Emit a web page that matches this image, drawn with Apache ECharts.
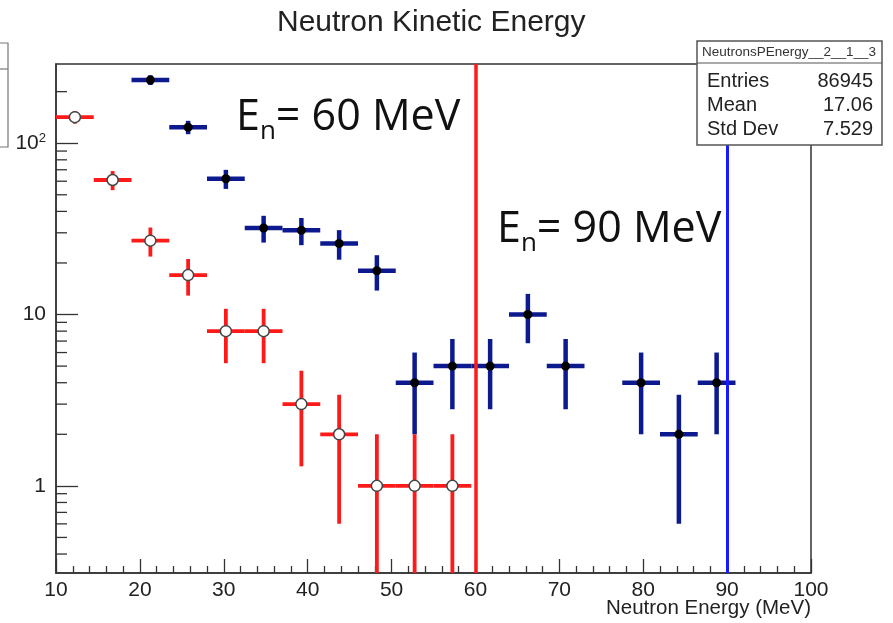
<!DOCTYPE html>
<html>
<head>
<meta charset="utf-8">
<script src="https://cdn.jsdelivr.net/npm/echarts@6/dist/echarts.min.js"></script>
<style>
  html, body { margin: 0; padding: 0; background: #fff; }
  #main { width: 893px; height: 623px; }
</style>
</head>
<body>
<div id="main"></div>
<script>
// bin centres (MeV), bins are 4.5 MeV wide starting at 10
var binWidth = 4.5;
var redCenters = [12.25, 16.75, 21.25, 25.75, 30.25, 34.75, 39.25, 43.75, 48.25, 52.75, 57.25];
var redCounts  = [142, 61, 27, 17, 8, 8, 3, 2, 1, 1, 1];
var redErr     = [12, 7.8, 5.2, 4.1, 2.8, 2.8, 1.7, 1.4, 1, 1, 1];

var blueCenters = [21.25, 25.75, 30.25, 34.75, 39.25, 43.75, 48.25, 52.75, 57.25, 61.75, 66.25, 70.75, 79.75, 84.25, 88.75];
var blueCounts  = [234, 124, 62, 32, 31, 26, 18, 4, 5, 5, 10, 5, 4, 2, 4];
var blueErr     = [15.3, 11.1, 7.9, 5.7, 5.6, 5.1, 4.2, 2, 2.2, 2.2, 3.2, 2.2, 2, 1.4, 2];

var xTicks = [10, 20, 30, 40, 50, 60, 70, 80, 90, 100];
var yMinorTicks = [0.4, 0.5, 0.6, 0.7, 0.8, 0.9, 2, 3, 4, 5, 6, 7, 8, 9, 20, 30, 40, 50, 60, 70, 80, 90, 200];
var energyLines = [60, 90];

var X_MIN = 10, X_MAX = 100, Y_MIN = 0.31, Y_MAX = 290;

var stats = [['Entries', '86945'], ['Mean', '17.06'], ['Std Dev', '7.529']];

function zip(xs, ys, es) {
    return xs.map(function (x, i) { return es ? [x, ys[i], es[i]] : [x, ys[i]]; });
}

function errorBars(color, width) {
    return function (params, api) {
        var x = api.value(0), v = api.value(1), e = api.value(2);
        var half = binWidth / 2;
        var l = api.coord([x - half, v]);
        var r = api.coord([x + half, v]);
        var t = api.coord([x, Math.min(v + e, Y_MAX)]);
        var low = v - e > Y_MIN ? v - e : Y_MIN;
        var b = api.coord([x, low]);
        var style = { stroke: color, lineWidth: width };
        return {
            type: 'group',
            children: [
                { type: 'line', shape: { x1: l[0], y1: l[1], x2: r[0], y2: r[1] }, style: style },
                { type: 'line', shape: { x1: t[0], y1: t[1], x2: b[0], y2: b[1] }, style: style }
            ]
        };
    };
}

var chart = echarts.init(document.getElementById('main'));

var statsChildren = [
    { type: 'rect', z: 100, shape: { x: 697, y: 41, width: 185, height: 104 },
      style: { fill: '#fff', stroke: '#555', lineWidth: 1.5 } },
    { type: 'line', z: 101, shape: { x1: 697, y1: 63, x2: 882, y2: 63 }, style: { stroke: '#555', lineWidth: 1.2 } },
    { type: 'text', z: 101, style: { x: 789, y: 52, text: 'NeutronsPEnergy__2__1__3', fontSize: 13.5,
      fontFamily: 'Liberation Sans', fill: '#333', align: 'center', verticalAlign: 'middle' } }
];
stats.forEach(function (s, i) {
    var y = 81 + i * 24;
    statsChildren.push({ type: 'text', z: 101, style: { x: 707, y: y, text: s[0], fontSize: 20,
        fontFamily: 'Liberation Sans', fill: '#222', align: 'left', verticalAlign: 'middle' } });
    statsChildren.push({ type: 'text', z: 101, style: { x: 873, y: y, text: s[1], fontSize: 20,
        fontFamily: 'Liberation Sans', fill: '#222', align: 'right', verticalAlign: 'middle' } });
});

var option = {
    backgroundColor: '#fff',
    animation: false,
    title: {
        text: 'Neutron Kinetic Energy',
        left: 272,
        top: 3,
        textStyle: { fontFamily: 'Liberation Sans', fontSize: 30, fontWeight: 'normal', color: '#222' }
    },
    grid: {
        left: 56, right: 82, top: 64, bottom: 50,
        outerBoundsMode: 'none',
        show: true, borderColor: '#333', borderWidth: 1.5, backgroundColor: 'transparent'
    },
    xAxis: {
        type: 'value',
        min: X_MIN, max: X_MAX, interval: 10,
        axisLine: { lineStyle: { color: '#333', width: 1.5 } },
        axisTick: { inside: true, length: 14, lineStyle: { color: '#333', width: 1.3 } },
        minorTick: { show: true, splitNumber: 5, length: 7, lineStyle: { color: '#333', width: 1.3 } },
        splitLine: { show: false },
        axisLabel: {
            fontFamily: 'Liberation Sans', fontSize: 21, color: '#222', margin: 7,
            formatter: function (v) { return xTicks.indexOf(v) >= 0 ? String(v) : ''; }
        }
    },
    yAxis: {
        type: 'log',
        logBase: 10,
        min: Y_MIN, max: Y_MAX,
        axisLine: { show: true, lineStyle: { color: '#333', width: 1.5 } },
        axisTick: { show: true, inside: true, length: 22, lineStyle: { color: '#333', width: 1.3 } },
        splitLine: { show: false },
        axisLabel: {
            showMinLabel: false, showMaxLabel: false,
            fontFamily: 'Liberation Sans', fontSize: 21, color: '#222', margin: 10,
            formatter: function (v) {
                var r = Math.round(v);
                if (r === 100) return '10{sup|2}';
                if (r === 10 || r === 1) return String(r);
                return '';
            },
            rich: { sup: { fontFamily: 'Liberation Sans', fontSize: 13, color: '#222', verticalAlign: 'top', padding: [0, 0, 10, 0] } }
        }
    },
    series: [
        {
            name: 'yMinorTicks',
            type: 'custom',
            silent: true,
            clip: false,
            data: yMinorTicks.map(function (v) { return [X_MIN, v]; }),
            renderItem: function (params, api) {
                var p = api.coord([api.value(0), api.value(1)]);
                return { type: 'line', shape: { x1: p[0], y1: p[1], x2: p[0] + 11, y2: p[1] },
                    style: { stroke: '#333', lineWidth: 1.3 } };
            },
            z: 1
        },
        {
            name: 'blueErr',
            type: 'custom',
            clip: true,
            data: zip(blueCenters, blueCounts, blueErr),
            renderItem: errorBars('#0d1a8f', 4.5),
            encode: { x: 0, y: 1 },
            z: 2
        },
        {
            name: 'redErr',
            type: 'custom',
            clip: true,
            data: zip(redCenters, redCounts, redErr),
            renderItem: errorBars('#ff1a1a', 3.8),
            encode: { x: 0, y: 1 },
            z: 3
        },
        {
            name: 'blue',
            type: 'scatter',
            data: zip(blueCenters, blueCounts),
            symbol: 'circle',
            symbolSize: 9,
            itemStyle: { color: '#000', opacity: 1 },
            z: 4
        },
        {
            name: 'red',
            type: 'scatter',
            data: zip(redCenters, redCounts),
            symbol: 'circle',
            symbolSize: 11,
            itemStyle: { color: '#fff', borderColor: '#444', borderWidth: 1.5, opacity: 1 },
            z: 5,
            markLine: {
                silent: true,
                symbol: 'none',
                label: { show: false },
                data: [
                    { xAxis: energyLines[0], lineStyle: { color: '#ff1a1a', width: 3.5, type: 'solid' } },
                    { xAxis: energyLines[1], lineStyle: { color: '#1a1aff', width: 3, type: 'solid' } }
                ]
            }
        }
    ],
    graphic: [
        // partly visible legend box at the left edge
        { type: 'rect', shape: { x: -10, y: 43, width: 18, height: 104 },
          style: { fill: '#fff', stroke: '#777', lineWidth: 1.2 }, z: 100 },
        { type: 'line', shape: { x1: 0, y1: 69, x2: 8, y2: 69 }, style: { stroke: '#777', lineWidth: 1.2 }, z: 100 },
        { type: 'group', z: 100, children: statsChildren },
        // x axis title
        { type: 'text', z: 100, style: { x: 811, y: 608, text: 'Neutron Energy (MeV)', fontSize: 20.5,
            fontFamily: 'Liberation Sans', fill: '#222', align: 'right', verticalAlign: 'middle' } },
        { type: 'text', z: 100, style: {
            x: 236, y: 118, text: '{e|E}{s|n}{e|= 60 MeV}', verticalAlign: 'middle',
            rich: {
                e: { fontFamily: 'Open Sans', fontSize: 43, fill: '#111', color: '#111' },
                s: { fontFamily: 'Open Sans', fontSize: 26, fill: '#111', color: '#111', padding: [27, 0, 0, 0] }
            } } },
        { type: 'text', z: 100, style: {
            x: 497, y: 230, text: '{e|E}{s|n}{e|= 90 MeV}', verticalAlign: 'middle',
            rich: {
                e: { fontFamily: 'Open Sans', fontSize: 43, fill: '#111', color: '#111' },
                s: { fontFamily: 'Open Sans', fontSize: 26, fill: '#111', color: '#111', padding: [27, 0, 0, 0] }
            } } }
    ]
};

chart.setOption(option);
</script>
</body>
</html>
